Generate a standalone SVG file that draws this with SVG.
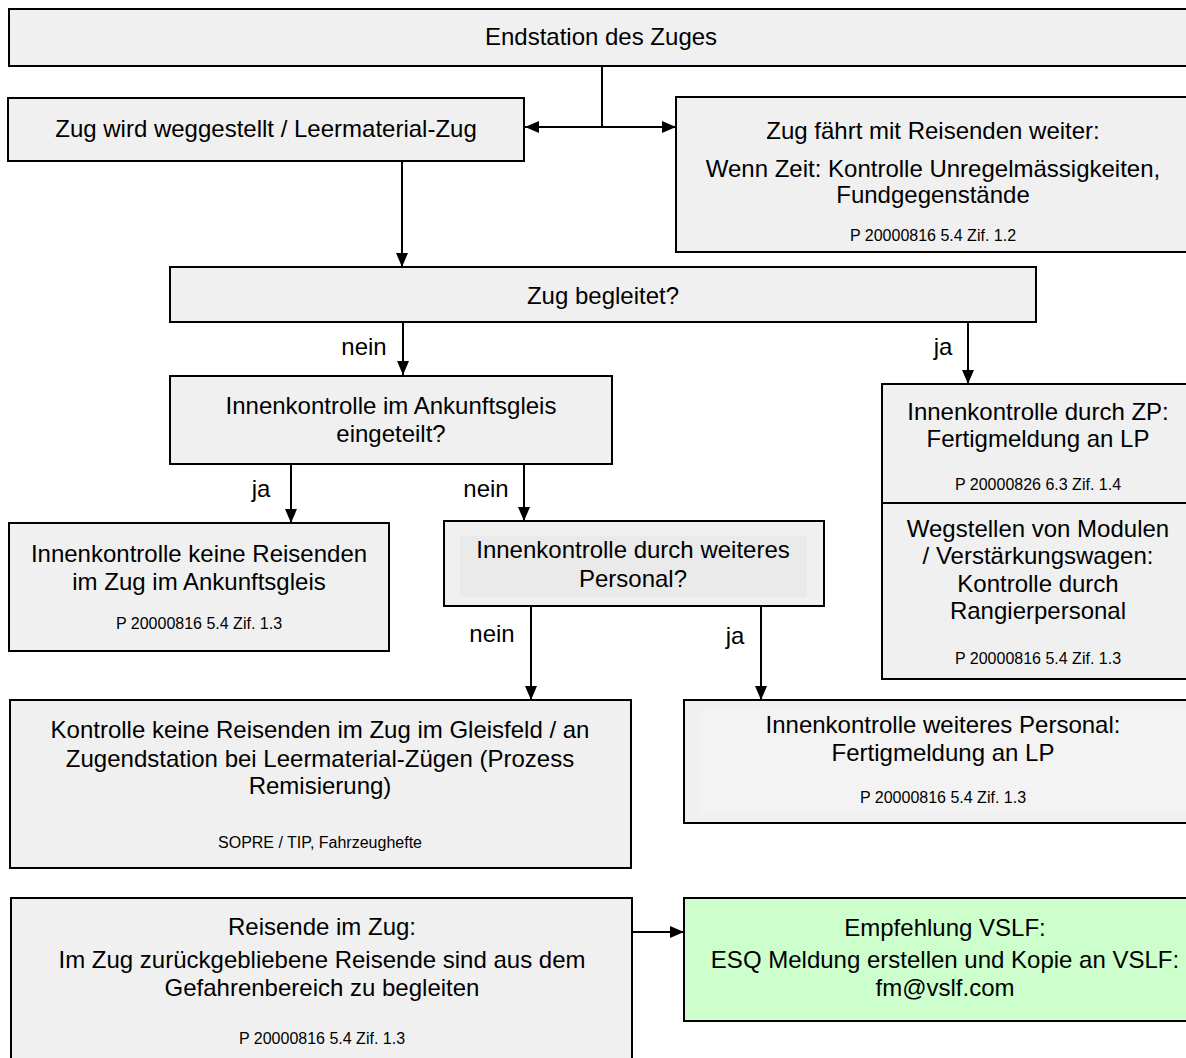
<svg xmlns="http://www.w3.org/2000/svg" width="1186" height="1058" viewBox="0 0 1186 1058">
<style>
.box{fill:#f0f0f0;stroke:#000;stroke-width:2}
.green{fill:#ccffcc;stroke:#000;stroke-width:2}
.inner{fill:#eaeaea;stroke:none}
.inner2{fill:#f3f3f3;stroke:none}
text{font-family:"Liberation Sans",Arial,sans-serif;fill:#000;text-anchor:middle}
.t{font-size:24px}
.s{font-size:16px}
.lbl{font-size:24px}
.c{fill:none;stroke:#000;stroke-width:2}
</style>
<defs>
<marker id="ah" viewBox="0 0 14 12" refX="14" refY="6" markerWidth="14" markerHeight="12" markerUnits="userSpaceOnUse" orient="auto-start-reverse">
<path d="M0,0 L14,6 L0,12 z" fill="#000"/>
</marker>
</defs>
<rect width="1186" height="1058" fill="#fff"/>
<g id="connectors">
<path class="c" d="M602,66 V127"/>
<path class="c" d="M525,127 H676" marker-start="url(#ah)" marker-end="url(#ah)"/>
<path class="c" d="M402,161 V267" marker-end="url(#ah)"/>
<path class="c" d="M403,322 V375" marker-end="url(#ah)"/>
<path class="c" d="M968,322 V384" marker-end="url(#ah)"/>
<path class="c" d="M291,464 V523" marker-end="url(#ah)"/>
<path class="c" d="M524,464 V521" marker-end="url(#ah)"/>
<path class="c" d="M531,606 V700" marker-end="url(#ah)"/>
<path class="c" d="M761,606 V700" marker-end="url(#ah)"/>
<path class="c" d="M632,932 H684" marker-end="url(#ah)"/>
<text class="lbl" x="364" y="355">nein</text>
<text class="lbl" x="943" y="355">ja</text>
<text class="lbl" x="261" y="497">ja</text>
<text class="lbl" x="486" y="497">nein</text>
<text class="lbl" x="492" y="642">nein</text>
<text class="lbl" x="735" y="644">ja</text>
</g>
<g id="n-endstation">
<rect class="box" x="9" y="9" width="1190" height="57"/>
<text class="t" x="601" y="45">Endstation des Zuges</text>
</g>
<g id="n-weggestellt">
<rect class="box" x="8" y="98" width="516" height="63"/>
<text class="t" x="266" y="137">Zug wird weggestellt / Leermaterial-Zug</text>
</g>
<g id="n-faehrt-weiter">
<rect class="box" x="676" y="97" width="520" height="155"/>
<text class="t" x="933" y="139">Zug fährt mit Reisenden weiter:</text>
<text class="t" x="933" y="177">Wenn Zeit: Kontrolle Unregelmässigkeiten,</text>
<text class="t" x="933" y="203">Fundgegenstände</text>
<text class="s" x="933" y="241">P 20000816 5.4 Zif. 1.2</text>
</g>
<g id="n-begleitet">
<rect class="box" x="170" y="267" width="866" height="55"/>
<text class="t" x="603" y="304">Zug begleitet?</text>
</g>
<g id="n-ankunftsgleis">
<rect class="box" x="170" y="376" width="442" height="88"/>
<text class="t" x="391" y="414">Innenkontrolle im Ankunftsgleis</text>
<text class="t" x="391" y="442">eingeteilt?</text>
</g>
<g id="n-zp">
<rect class="box" x="882" y="384" width="314" height="119"/>
<text class="t" x="1038" y="420">Innenkontrolle durch ZP:</text>
<text class="t" x="1038" y="447">Fertigmeldung an LP</text>
<text class="s" x="1038" y="490">P 20000826 6.3 Zif. 1.4</text>
</g>
<g id="n-wegstellen">
<rect class="box" x="882" y="503" width="314" height="176"/>
<text class="t" x="1038" y="537">Wegstellen von Modulen</text>
<text class="t" x="1038" y="564">/ Verstärkungswagen:</text>
<text class="t" x="1038" y="592">Kontrolle durch</text>
<text class="t" x="1038" y="619">Rangierpersonal</text>
<text class="s" x="1038" y="664">P 20000816 5.4 Zif. 1.3</text>
</g>
<g id="n-keine-reisenden-ankunft">
<rect class="box" x="9" y="523" width="380" height="128"/>
<text class="t" x="199" y="562">Innenkontrolle keine Reisenden</text>
<text class="t" x="199" y="590">im Zug im Ankunftsgleis</text>
<text class="s" x="199" y="629">P 20000816 5.4 Zif. 1.3</text>
</g>
<g id="n-weiteres-personal-frage">
<rect class="box" x="444" y="521" width="380" height="85"/>
<rect class="inner" x="460" y="536" width="347" height="61"/>
<text class="t" x="633" y="558">Innenkontrolle durch weiteres</text>
<text class="t" x="633" y="587">Personal?</text>
</g>
<g id="n-gleisfeld">
<rect class="box" x="10" y="700" width="621" height="168"/>
<text class="t" x="320" y="738">Kontrolle keine Reisenden im Zug im Gleisfeld / an</text>
<text class="t" x="320" y="767">Zugendstation bei Leermaterial-Zügen (Prozess</text>
<text class="t" x="320" y="794">Remisierung)</text>
<text class="s" x="320" y="848">SOPRE / TIP, Fahrzeughefte</text>
</g>
<g id="n-weiteres-personal">
<rect class="box" x="684" y="700" width="512" height="123"/>
<rect class="inner2" x="700" y="710" width="496" height="102"/>
<text class="t" x="943" y="733">Innenkontrolle weiteres Personal:</text>
<text class="t" x="943" y="761">Fertigmeldung an LP</text>
<text class="s" x="943" y="803">P 20000816 5.4 Zif. 1.3</text>
</g>
<g id="n-reisende">
<rect class="box" x="11" y="898" width="621" height="170"/>
<text class="t" x="322" y="935">Reisende im Zug:</text>
<text class="t" x="322" y="968">Im Zug zurückgebliebene Reisende sind aus dem</text>
<text class="t" x="322" y="996">Gefahrenbereich zu begleiten</text>
<text class="s" x="322" y="1044">P 20000816 5.4 Zif. 1.3</text>
</g>
<g id="n-vslf">
<rect class="green" x="684" y="898" width="512" height="123"/>
<text class="t" x="945" y="936">Empfehlung VSLF:</text>
<text class="t" x="945" y="968">ESQ Meldung erstellen und Kopie an VSLF:</text>
<text class="t" x="945" y="996">fm@vslf.com</text>
</g>
</svg>
